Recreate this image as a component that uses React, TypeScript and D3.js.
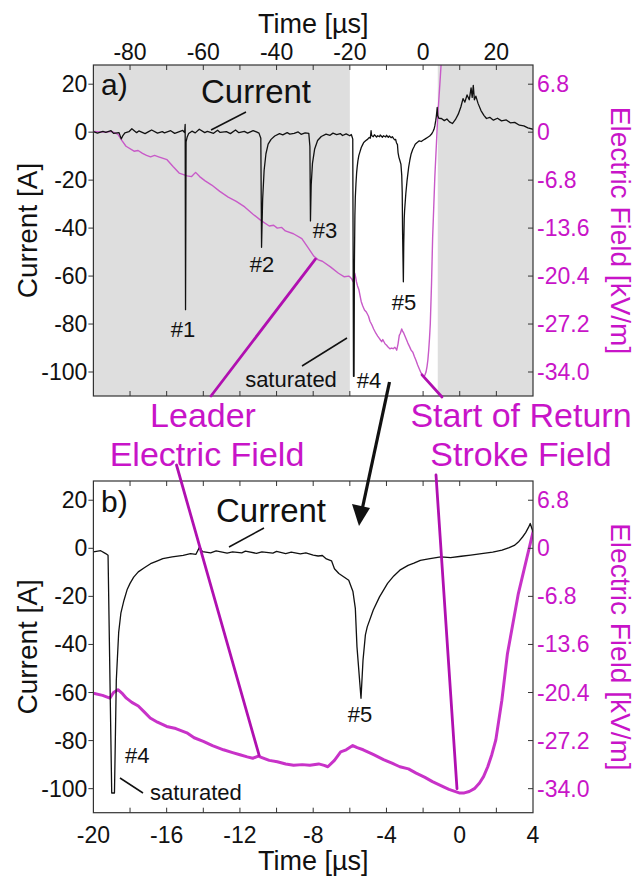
import React from "react";
import * as d3 from "d3";

// ---------- data ----------
// Current trace [A] vs time [µs]
const currentTime = [
  -90, -88.9, -87.4, -86.6, -85.2, -84.5, -83, -82.4, -82.0, -81.4, -80.3, -79.5, -78.2, -77.6, -75.9, -74.8, -74.1, -72.5, -71.2,
  -70.6, -68.9, -67.8, -66.7, -65.6, -65.1,
  -64.95, -64.85, -64.7, -64.4, -64, -63.1, -62.2, -61.1, -59.6, -58.9, -57.2, -56.1, -55.4, -53.7, -52.6, -51.2, -50.3, -48.8,
  -47.9, -46.4, -45.5, -44.8,
  -44.3, -44.1, -43.8, -43.4, -42.9, -42.3, -41.5, -40.5, -39.2, -38.3, -37.1, -36.4, -35.2, -34.1, -33.3, -32.2, -31.2,
  -30.9, -30.75, -30.55, -30.2, -29.6, -28.8, -27.8, -26.5, -25.4, -24.6, -23.6, -22.6, -22.0, -21, -20,
  -19.6, -19.33, -19.2, -19.0, -18.85, -18.75, -18.62, -18.5, -18.33, -18.15, -18.0, -17.8, -17.55, -17.2, -16.88, -16.5, -16.21,
  -15.7, -15.1, -14.7, -14.4, -14.2, -14.05, -13.6, -13.3, -12.7, -12.4, -11.9, -11.7, -11.1, -10.8, -10.2, -10.0, -9.5, -9.2,
  -8.7, -8.4, -8.0, -7.73, -7.5, -7.28, -7.0, -6.84, -6.6, -6.4, -6.06, -5.83, -5.7, -5.61, -5.39, -5.28, -5.15, -5.05, -4.72,
  -4.38, -3.94, -3.6, -3.27, -2.82, -2.5, -2.15, -1.7, -1.04, -0.5, 0.08, 0.6, 1.19, 1.8, 2.31, 2.7, 2.98, 3.2, 3.43, 3.6, 3.76,
  3.85, 4.0,
  4.3, 5, 5.8, 6.5, 7.2, 8.0, 8.8, 9.6, 10.3, 10.9, 11.4, 12.0, 12.6, 13.1, 13.4, 13.7, 14.0, 14.4, 15.0, 15.8, 16.6, 17.3,
  18.2, 19.2, 20.3, 21.4, 22.7, 23.8, 25, 26.3, 27.5, 28.6, 30,
];
const currentAmps = [
  0.2, -0.4, 0.3, -0.1, 0.6, -0.5, -0.2, -2.8, -1.6, -0.3, 0.2, 1.4, -0.2, 0.5, -0.6, 0.3, 0.9, -0.4, 0.2,
  -0.3, 0.6, -0.5, 0.1, 0.7, -0.2,
  3.2, -74, -4, -2, -0.6, 0.4, -0.3, 1.2, -0.2, 0.3, -0.5, 0.8, -0.1, 0.2, -0.6, 0.9, -0.2, 0.3,
  -0.4, 0.6, 0.1, -0.4,
  -2.5, -48, -28, -16, -9, -5, -3, -1.6, -0.6, -1.1, -0.2, -0.8, -0.5, 0.1, -0.9, -0.3, -0.5,
  -6, -37, -22, -13, -7, -3.5, -1.8, -0.8, -1.3, -0.4, -1.0, -0.6, -1.4, -0.7, -1.5,
  -1.0, -2.2, -2.9, -101.8, -101.8, -55, -35, -27, -21.6, -17, -14.6, -12, -9.8, -8, -6.4, -5.2, -4.3,
  -3.6, -2.9, -2.2, -2.5, 0.6, -1.4, -1.9, -1.1, -2.0, -1.5, -1.9, -1.2, -2.1, -1.5, -2.0, -1.3, -2.2, -1.6,
  -2.3, -1.9, -2.8, -3.2, -3.0, -4.4, -5.2, -8.5, -10.5, -11.5, -13.3, -18, -25, -41, -62.4, -46.5, -36, -32.7, -25.7,
  -20.2, -14.6, -11.5, -9.1, -7.1, -6.2, -5.0, -4.4, -3.6, -3.9, -3.3, -2.8, -2.2, -1.6, -0.8, 0.3, 1.2, 2.6, 4.7, 6.5, 8.8,
  10.3, 6.8,
  5.8, 5.7, 4.8, 5.5, 4.3, 3.6, 5.2, 7.5, 10.5, 14, 12.5, 15.5, 13.5, 18.5, 14.5, 19.5, 13.5, 15, 12, 9, 7, 5.7,
  6.2, 5.0, 5.8, 4.7, 5.1, 3.9, 4.1, 2.9, 2.6, 1.8, 1.2,
];

// Electric field [kV/m] vs time [µs]
const fieldTime = [
  -90, -87, -85, -83.3, -82.2, -81.1, -78.9, -77.8, -76.6, -75.5, -74.4, -73.3, -72.2, -69.9, -68.2, -66.6, -64.4, -63.2, -62.1,
  -61.0, -59.5, -57.7, -55.5, -53.2, -51, -48.7, -46.5, -44.3, -42.0, -40.8, -39.8, -38.6, -37.6, -35.4, -33.1, -31.5, -29.8,
  -28.6, -27.5, -25.3, -23.1, -21.5, -20.3,
  -20, -19.5, -19.1, -18.9, -18.66, -18.4, -18.2, -17.9, -17.55, -17.2, -16.9, -16.5, -16.0, -15.5, -14.9, -14.5, -14.0, -13.5,
  -12.9, -12.4, -12.0, -11.6, -11.3, -11.0, -10.8, -10.4, -9.96, -9.5, -9.07, -8.6, -8.18, -7.7, -7.4, -7.2, -6.84, -6.5, -6.2,
  -5.84, -5.6, -5.27, -4.7, -4.16, -3.7, -3.27, -2.8, -2.38, -1.9, -1.49, -1.0, -0.59, -0.03, 0.25, 0.52, 0.8, 1.08, 1.3, 1.53,
  1.75, 1.97, 2.3, 2.6, 3.2, 4.0, 4.6, 5.2,
];
const fieldKV = [
  0.1, 0.0, 0.1, -0.3, -1.2, -2.0, -2.7, -2.6, -3.0, -3.3, -3.5, -3.3, -3.5, -3.9, -4.9, -5.8, -6.2, -6.3, -5.7,
  -6.3, -6.9, -7.5, -8.4, -9.2, -9.8, -10.6, -11.6, -12.5, -13.3, -13.2, -13.6, -13.5, -14.0, -14.4, -15.1, -16.3, -17.6,
  -18.1, -18.3, -19.1, -20.0, -20.5, -20.4,
  -20.5, -20.8, -21.2, -20.4, -20.0, -20.6, -21.2, -21.8, -22.3, -23.2, -24.0, -24.6, -25.2, -25.5, -26.1, -26.8, -27.3, -27.9,
  -28.5, -28.9, -29.2, -29.5, -29.7, -29.4, -29.6, -30.0, -30.2, -30.5, -30.7, -30.6, -30.7, -30.5, -30.7, -30.9, -30.0, -28.8, -28.5,
  -27.9, -28.2, -28.5, -29.2, -29.9, -30.4, -30.9, -31.2, -31.8, -32.4, -33.0, -33.6, -34.1, -34.6, -34.6, -34.4, -34.0, -33.2, -32.3, -30.9,
  -29.2, -27.1, -21.5, -15.0, -6.4, 2.3, 7.0, 12.0,
];

const ampTicks = [20, 0, -20, -40, -60, -80, -100];
const fieldTicks = [6.8, 0, -6.8, -13.6, -20.4, -27.2, -34.0];
const timeLabelsA = [-80, -60, -40, -20, 0, 20];
const timeMinorA = [-80, -70, -60, -50, -40, -30, -20, -10, 0, 10, 20];
const timeLabelsB = [-20, -16, -12, -8, -4, 0, 4];
const timeMinorB = [-18, -16, -14, -12, -10, -8, -6, -4, -2, 0, 2];
const shadedSpans = [
  [-90, -20],
  [4, 30],
];
const FIELD_PER_AMP = 0.34;

const FONT = "'Liberation Sans', Arial, Helvetica, sans-serif";
const MAG = "#c814c8";

export default function App() {
  const L = 93.4;
  const R = 533;
  const aTop = 65;
  const aBot = 396;
  const bTop = 481;
  const bBot = 812.7;

  const xA = d3.scaleLinear().domain([-90, 30]).range([L, R]);
  const xB = d3.scaleLinear().domain([-20, 4]).range([L, R]);
  const yA = d3.scaleLinear().domain([-110, 28]).range([aBot, aTop]);
  const yB = d3.scaleLinear().domain([-110, 28]).range([bBot, bTop]);
  const eA = d3.scaleLinear().domain([-110 * FIELD_PER_AMP, 28 * FIELD_PER_AMP]).range([aBot, aTop]);
  const eB = d3.scaleLinear().domain([-110 * FIELD_PER_AMP, 28 * FIELD_PER_AMP]).range([bBot, bTop]);

  const cur = currentTime.map((t, i) => [t, currentAmps[i]] as [number, number]);
  const fld = fieldTime.map((t, i) => [t, fieldKV[i]] as [number, number]);

  const line = (xs: any, ys: any) =>
    d3
      .line<[number, number]>()
      .x((d) => xs(d[0]))
      .y((d) => ys(d[1]));

  const tickLen = 5;

  const panel = (
    id: string,
    x: any,
    y: any,
    e: any,
    top: number,
    bot: number,
    minor: number[],
    fieldWidth: number,
    fieldColor: string
  ) => (
    <g>
      <clipPath id={id}>
        <rect x={L} y={top} width={R - L} height={bot - top} />
      </clipPath>
      <g clipPath={`url(#${id})`}>
        <path d={line(x, e)(fld) || ""} fill="none" stroke={fieldColor} strokeWidth={fieldWidth} strokeLinejoin="round" />
        <path d={line(x, y)(cur) || ""} fill="none" stroke="#111" strokeWidth={1.3} strokeLinejoin="round" />
      </g>
      {minor.map((t) => (
        <g key={"m" + t}>
          <line x1={x(t)} x2={x(t)} y1={bot} y2={bot - tickLen} stroke="#333" strokeWidth={1} />
          <line x1={x(t)} x2={x(t)} y1={top} y2={top + tickLen} stroke="#333" strokeWidth={1} />
        </g>
      ))}
      {ampTicks.map((a) => (
        <g key={"a" + a}>
          <line x1={L - tickLen} x2={L} y1={y(a)} y2={y(a)} stroke="#333" strokeWidth={1} />
          <text x={L - 6} y={y(a)} dy="0.35em" textAnchor="end" fontSize={23} fontFamily={FONT} fill="#111">
            {a}
          </text>
        </g>
      ))}
      {fieldTicks.map((v) => (
        <g key={"f" + v}>
          <line x1={R - tickLen} x2={R} y1={e(v)} y2={e(v)} stroke="#333" strokeWidth={1} />
          <text x={R + 4} y={e(v)} dy="0.35em" textAnchor="start" fontSize={23} fontFamily={FONT} fill={MAG}>
            {v === 0 ? "0" : v.toFixed(1)}
          </text>
        </g>
      ))}
      <rect x={L} y={top} width={R - L} height={bot - top} fill="none" stroke="#333" strokeWidth={1.2} />
      <text
        transform={`translate(27,${(top + bot) / 2}) rotate(-90)`}
        textAnchor="middle"
        dominantBaseline="central"
        fontSize={28}
        fontFamily={FONT}
        fill="#111"
      >
        Current [A]
      </text>
      <text
        transform={`translate(620,${(top + bot) / 2}) rotate(90)`}
        textAnchor="middle"
        dominantBaseline="central"
        fontSize={28}
        fontFamily={FONT}
        fill={MAG}
      >
        Electric Field [kV/m]
      </text>
    </g>
  );

  const ptr = { stroke: "#b010b0", strokeWidth: 2.8, strokeLinecap: "round" as const };

  return (
    <svg
      width={636}
      height={878}
      style={{ position: "absolute", left: 0, top: 0, background: "#fff" }}
      fontFamily={FONT}
    >
      <rect x={0} y={0} width={636} height={878} fill="#fff" />
      {shadedSpans.map(([a, b]) => (
        <rect key={a} x={xA(a)} y={aTop} width={xA(b) - xA(a)} height={aBot - aTop} fill="#dedede" />
      ))}
      {panel("clipA", xA, yA, eA, aTop, aBot, timeMinorA, 1.4, "#c85ac8")}
      {panel("clipB", xB, yB, eB, bTop, bBot, timeMinorB, 3, "#c832c8")}

      {timeLabelsA.map((t) => (
        <text key={t} x={xA(t)} y={60} textAnchor="middle" fontSize={23} fill="#111">
          {t}
        </text>
      ))}
      <text x={(L + R) / 2} y={33} textAnchor="middle" fontSize={27} fill="#111">
        Time [µs]
      </text>
      {timeLabelsB.map((t) => (
        <text key={t} x={xB(t)} y={843} textAnchor="middle" fontSize={23} fill="#111">
          {t}
        </text>
      ))}
      <text x={(L + R) / 2} y={870} textAnchor="middle" fontSize={27} fill="#111">
        Time [µs]
      </text>

      {/* panel a annotations */}
      <text x={101} y={95} fontSize={30} fill="#111">a)</text>
      <text x={256} y={103} textAnchor="middle" fontSize={33} fill="#111">Current</text>
      <line x1={246} y1={112} x2={211} y2={130} stroke="#111" strokeWidth={1.5} />
      <text x={183} y={337} textAnchor="middle" fontSize={22} fill="#111">#1</text>
      <text x={262} y={272} textAnchor="middle" fontSize={22} fill="#111">#2</text>
      <text x={325} y={238} textAnchor="middle" fontSize={22} fill="#111">#3</text>
      <text x={404} y={310} textAnchor="middle" fontSize={22} fill="#111">#5</text>
      <text x={369} y={388} textAnchor="middle" fontSize={22} fill="#111">#4</text>
      <text x={291} y={387} textAnchor="middle" fontSize={22} fill="#111">saturated</text>
      <line x1={302} y1={366} x2={347} y2={338} stroke="#111" strokeWidth={1.5} />

      {/* panel b annotations */}
      <text x={101} y={512} fontSize={30} fill="#111">b)</text>
      <text x={271} y={522} textAnchor="middle" fontSize={33} fill="#111">Current</text>
      <line x1={264} y1={528} x2={229} y2={547} stroke="#111" strokeWidth={1.5} />
      <text x={360} y={722} textAnchor="middle" fontSize={22} fill="#111">#5</text>
      <text x={125} y={763} fontSize={22} fill="#111">#4</text>
      <text x={150} y={800} fontSize={22} fill="#111">saturated</text>
      <line x1={120} y1={778} x2={143} y2={793} stroke="#111" strokeWidth={1.5} />

      {/* magenta labels and pointers */}
      <text x={203} y={427} textAnchor="middle" fontSize={34} fill={MAG}>Leader</text>
      <text x={207} y={466} textAnchor="middle" fontSize={34} fill={MAG}>Electric Field</text>
      <text x={521} y={427} textAnchor="middle" fontSize={34} fill={MAG}>Start of Return</text>
      <text x={521} y={466} textAnchor="middle" fontSize={34} fill={MAG}>Stroke Field</text>
      <line x1={211} y1={396} x2={xA(-29.4)} y2={eA(-18.0)} {...ptr} />
      <line x1={176.5} y1={465} x2={xB(-10.95)} y2={eB(-29.3)} {...ptr} />
      <line x1={442} y1={397} x2={xA(-0.3)} y2={eA(-34.4)} {...ptr} />
      <line x1={436} y1={475} x2={xB(-0.15)} y2={eB(-34.0)} {...ptr} />

      <line x1={389.5} y1={382} x2={362} y2={510} stroke="#111" strokeWidth={3.2} />
      <path d="M 359 526 L 352 504 L 370 508 Z" fill="#111" />
    </svg>
  );
}
